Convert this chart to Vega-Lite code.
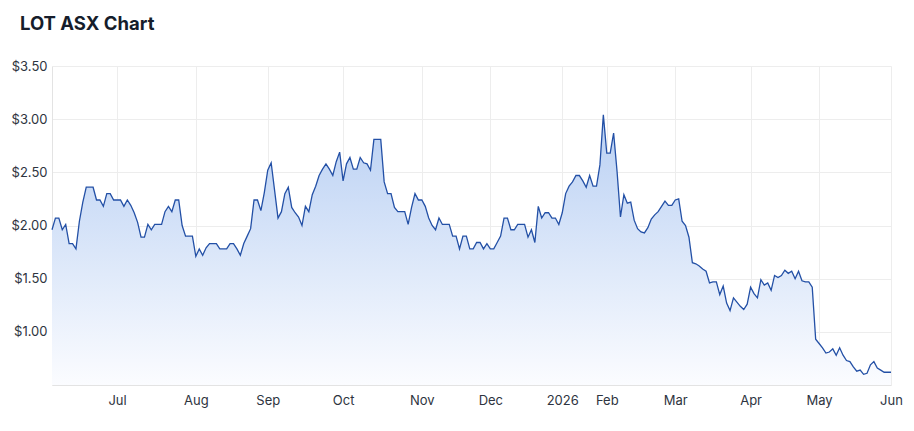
{
  "$schema": "https://vega.github.io/schema/vega-lite/v6.json",
  "width": 839,
  "height": 319,
  "autosize": {"type": "none"},
  "padding": {"left": 52, "top": 66, "right": 23, "bottom": 46},
  "background": "#ffffff",
  "title": {
    "text": "LOT ASX Chart",
    "anchor": "start",
    "frame": "group",
    "font": "Inter",
    "fontSize": 18.5,
    "fontWeight": 700,
    "color": "#161d2b",
    "dx": -32,
    "offset": 27
  },
  "config": {
    "view": {"stroke": null},
    "axis": {
      "labelFont": "Inter",
      "labelFontSize": 13,
      "labelColor": "#2e3440",
      "gridColor": "#ededed",
      "gridWidth": 1,
      "domainColor": "#e3e3e3",
      "ticks": false,
      "title": null
    }
  },
  "data": {
    "values": [
      {"day":0,"price":1.96},{"day":1,"price":2.07},{"day":2,"price":2.07},{"day":3,"price":1.96},{"day":4,"price":2.01},
      {"day":5,"price":1.83},{"day":6,"price":1.83},{"day":7,"price":1.78},{"day":8,"price":2.04},{"day":9,"price":2.22},
      {"day":10,"price":2.36},{"day":11,"price":2.36},{"day":12,"price":2.36},{"day":13,"price":2.24},{"day":14,"price":2.24},
      {"day":15,"price":2.18},{"day":16,"price":2.30},{"day":17,"price":2.30},{"day":18,"price":2.24},{"day":19,"price":2.24},
      {"day":20,"price":2.24},{"day":21,"price":2.18},{"day":22,"price":2.24},{"day":23,"price":2.19},{"day":24,"price":2.12},
      {"day":25,"price":2.03},{"day":26,"price":1.89},{"day":27,"price":1.89},{"day":28,"price":2.01},{"day":29,"price":1.96},
      {"day":30,"price":2.01},{"day":31,"price":2.01},{"day":32,"price":2.01},{"day":33,"price":2.13},{"day":34,"price":2.18},
      {"day":35,"price":2.13},{"day":36,"price":2.24},{"day":37,"price":2.24},{"day":38,"price":2.00},{"day":39,"price":1.90},
      {"day":40,"price":1.90},{"day":41,"price":1.90},{"day":42,"price":1.71},{"day":43,"price":1.78},{"day":44,"price":1.72},
      {"day":45,"price":1.79},{"day":46,"price":1.83},{"day":47,"price":1.83},{"day":48,"price":1.83},{"day":49,"price":1.78},
      {"day":50,"price":1.78},{"day":51,"price":1.78},{"day":52,"price":1.83},{"day":53,"price":1.83},{"day":54,"price":1.78},
      {"day":55,"price":1.72},{"day":56,"price":1.83},{"day":57,"price":1.90},{"day":58,"price":1.97},{"day":59,"price":2.24},
      {"day":60,"price":2.24},{"day":61,"price":2.14},{"day":62,"price":2.31},{"day":63,"price":2.52},{"day":64,"price":2.59},
      {"day":65,"price":2.33},{"day":66,"price":2.07},{"day":67,"price":2.13},{"day":68,"price":2.30},{"day":69,"price":2.36},
      {"day":70,"price":2.17},{"day":71,"price":2.12},{"day":72,"price":2.08},{"day":73,"price":2.00},{"day":74,"price":2.18},
      {"day":75,"price":2.13},{"day":76,"price":2.29},{"day":77,"price":2.37},{"day":78,"price":2.47},{"day":79,"price":2.53},
      {"day":80,"price":2.58},{"day":81,"price":2.53},{"day":82,"price":2.47},{"day":83,"price":2.60},{"day":84,"price":2.69},
      {"day":85,"price":2.42},{"day":86,"price":2.58},{"day":87,"price":2.64},{"day":88,"price":2.53},{"day":89,"price":2.53},
      {"day":90,"price":2.64},{"day":91,"price":2.59},{"day":92,"price":2.58},{"day":93,"price":2.52},{"day":94,"price":2.81},
      {"day":95,"price":2.81},{"day":96,"price":2.81},{"day":97,"price":2.41},{"day":98,"price":2.30},{"day":99,"price":2.30},
      {"day":100,"price":2.17},{"day":101,"price":2.13},{"day":102,"price":2.13},{"day":103,"price":2.13},{"day":104,"price":2.01},
      {"day":105,"price":2.17},{"day":106,"price":2.30},{"day":107,"price":2.24},{"day":108,"price":2.24},{"day":109,"price":2.18},
      {"day":110,"price":2.07},{"day":111,"price":2.00},{"day":112,"price":1.96},{"day":113,"price":2.07},{"day":114,"price":2.01},
      {"day":115,"price":2.01},{"day":116,"price":2.01},{"day":117,"price":1.90},{"day":118,"price":1.90},{"day":119,"price":1.78},
      {"day":120,"price":1.90},{"day":121,"price":1.90},{"day":122,"price":1.78},{"day":123,"price":1.78},{"day":124,"price":1.84},
      {"day":125,"price":1.84},{"day":126,"price":1.78},{"day":127,"price":1.83},{"day":128,"price":1.78},{"day":129,"price":1.78},
      {"day":130,"price":1.84},{"day":131,"price":1.90},{"day":132,"price":2.07},{"day":133,"price":2.07},{"day":134,"price":1.96},
      {"day":135,"price":1.96},{"day":136,"price":2.01},{"day":137,"price":2.01},{"day":138,"price":2.01},{"day":139,"price":1.89},
      {"day":140,"price":1.96},{"day":141,"price":1.84},{"day":142,"price":2.18},{"day":143,"price":2.07},{"day":144,"price":2.12},
      {"day":145,"price":2.12},{"day":146,"price":2.07},{"day":147,"price":2.07},{"day":148,"price":2.01},{"day":149,"price":2.12},
      {"day":150,"price":2.30},{"day":151,"price":2.37},{"day":152,"price":2.41},{"day":153,"price":2.47},{"day":154,"price":2.47},
      {"day":155,"price":2.42},{"day":156,"price":2.36},{"day":157,"price":2.47},{"day":158,"price":2.37},{"day":159,"price":2.37},
      {"day":160,"price":2.57},{"day":161,"price":3.04},{"day":162,"price":2.68},{"day":163,"price":2.68},{"day":164,"price":2.87},
      {"day":165,"price":2.51},{"day":166,"price":2.08},{"day":167,"price":2.29},{"day":168,"price":2.21},{"day":169,"price":2.22},
      {"day":170,"price":2.05},{"day":171,"price":1.97},{"day":172,"price":1.94},{"day":173,"price":1.93},{"day":174,"price":1.98},
      {"day":175,"price":2.06},{"day":176,"price":2.10},{"day":177,"price":2.13},{"day":178,"price":2.18},{"day":179,"price":2.23},
      {"day":180,"price":2.19},{"day":181,"price":2.19},{"day":182,"price":2.24},{"day":183,"price":2.25},{"day":184,"price":2.04},
      {"day":185,"price":2.00},{"day":186,"price":1.89},{"day":187,"price":1.65},{"day":188,"price":1.64},{"day":189,"price":1.62},
      {"day":190,"price":1.59},{"day":191,"price":1.57},{"day":192,"price":1.46},{"day":193,"price":1.47},{"day":194,"price":1.47},
      {"day":195,"price":1.35},{"day":196,"price":1.43},{"day":197,"price":1.27},{"day":198,"price":1.20},{"day":199,"price":1.32},
      {"day":200,"price":1.28},{"day":201,"price":1.24},{"day":202,"price":1.21},{"day":203,"price":1.26},{"day":204,"price":1.42},
      {"day":205,"price":1.36},{"day":206,"price":1.32},{"day":207,"price":1.49},{"day":208,"price":1.44},{"day":209,"price":1.46},
      {"day":210,"price":1.39},{"day":211,"price":1.53},{"day":212,"price":1.51},{"day":213,"price":1.53},{"day":214,"price":1.58},
      {"day":215,"price":1.55},{"day":216,"price":1.57},{"day":217,"price":1.50},{"day":218,"price":1.57},{"day":219,"price":1.48},
      {"day":220,"price":1.47},{"day":221,"price":1.47},{"day":222,"price":1.42},{"day":223,"price":0.93},{"day":224,"price":0.89},
      {"day":225,"price":0.85},{"day":226,"price":0.80},{"day":227,"price":0.81},{"day":228,"price":0.84},{"day":229,"price":0.78},
      {"day":230,"price":0.85},{"day":231,"price":0.78},{"day":232,"price":0.73},{"day":233,"price":0.72},{"day":234,"price":0.67},
      {"day":235,"price":0.63},{"day":236,"price":0.64},{"day":237,"price":0.60},{"day":238,"price":0.61},{"day":239,"price":0.69},
      {"day":240,"price":0.72},{"day":241,"price":0.66},{"day":242,"price":0.64},{"day":243,"price":0.62},{"day":244,"price":0.62},
      {"day":245,"price":0.62}
    ]
  },
  "encoding": {
    "x": {
      "field": "day",
      "type": "quantitative",
      "scale": {"domain": [0, 245], "nice": false, "zero": false},
      "axis": {
        "values": [19, 42, 63, 85, 108, 128, 149, 162, 182, 204, 224, 245],
        "labelExpr": "['Jul','Aug','Sep','Oct','Nov','Dec','2026','Feb','Mar','Apr','May','Jun'][indexof([19,42,63,85,108,128,149,162,182,204,224,245], datum.value)]",
        "labelFlush": false,
        "labelOverlap": false,
        "labelPadding": 9,
        "grid": true
      }
    },
    "y": {
      "field": "price",
      "type": "quantitative",
      "scale": {"domain": [0.5, 3.5], "nice": false, "zero": false},
      "axis": {
        "values": [1, 1.5, 2, 2.5, 3, 3.5],
        "format": "$.2f",
        "labelPadding": 5,
        "grid": true
      }
    }
  },
  "layer": [
    {
      "mark": {
        "type": "area",
        "interpolate": "linear",
        "color": {
          "gradient": "linear",
          "x1": 1, "y1": 1, "x2": 1, "y2": 0,
          "stops": [
            {"offset": 0, "color": "#fbfcff"},
            {"offset": 0.5, "color": "#dae6f9"},
            {"offset": 1, "color": "#b9d0f3"}
          ]
        }
      },
      "encoding": {"y2": {"datum": 0.5}}
    },
    {
      "mark": {"type": "line", "color": "#2350a6", "strokeWidth": 1.3, "interpolate": "linear"},
      "encoding": {}
    }
  ]
}
